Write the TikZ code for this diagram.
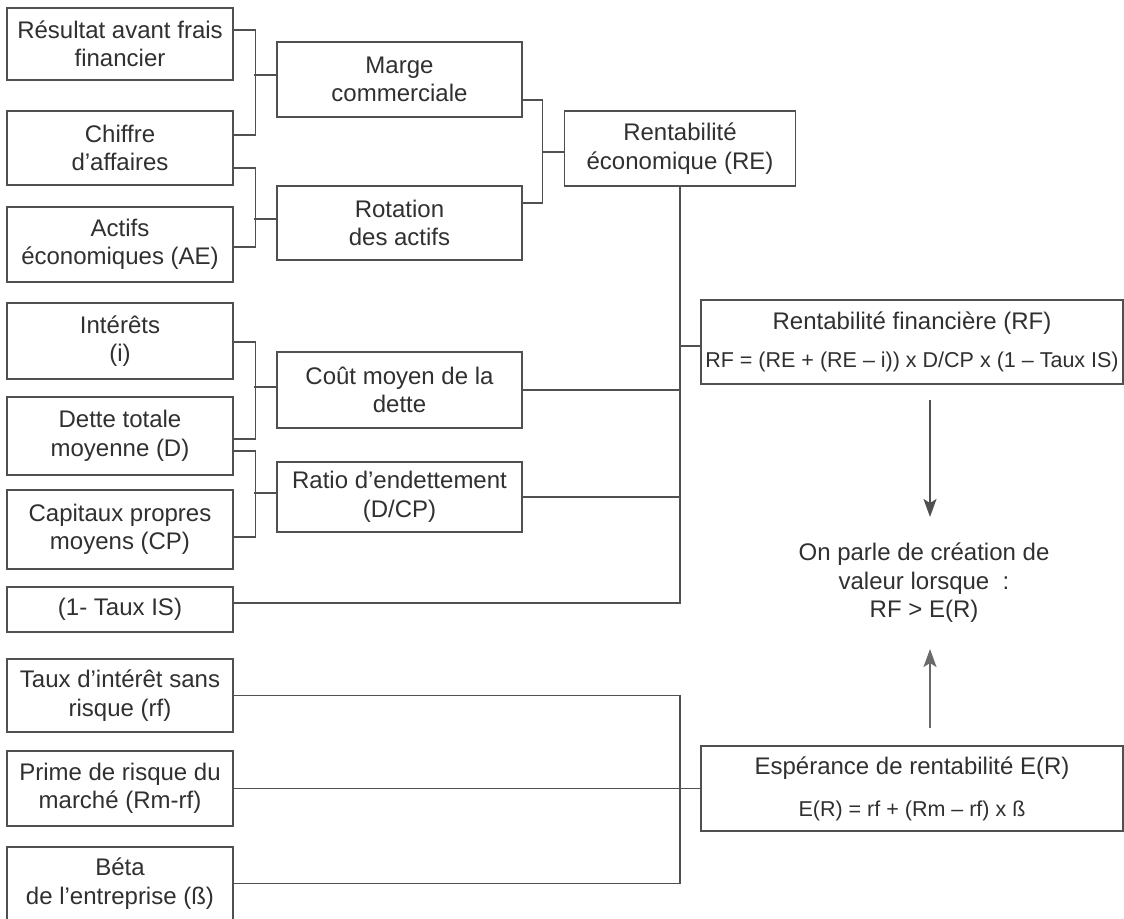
\documentclass[tikz,border=0pt]{standalone}
\usepackage{fontspec}
\setmainfont{Liberation Sans}
\usetikzlibrary{arrows.meta,calc}
\definecolor{ink}{HTML}{303030}
\definecolor{edge}{HTML}{505050}
\definecolor{softedge}{HTML}{6a6a6a}
\begin{document}
\begin{tikzpicture}[x=1pt,y=-1pt,
  every node/.style={text=ink},
  box/.style={draw=edge, line width=1.4pt, inner sep=0pt, align=center,
    font=\fontsize{24}{28.5}\selectfont},
  leftbox/.style={box, minimum width=226pt},
  midbox/.style={box, minimum width=245pt},
  bigbox/.style={draw=edge, line width=1.4pt, inner sep=0pt, minimum width=422pt},
  title/.style={inner sep=0pt, font=\fontsize{24}{28.5}\selectfont},
  formula/.style={inner sep=0pt, font=\fontsize{21.5}{26}\selectfont},
  link/.style={draw=edge, line width=1.4pt},
  arrdark/.style={draw=edge, line width=1.6pt, -{Stealth[length=18pt,width=13pt,inset=4pt]}},
  arrsoft/.style={draw=softedge, line width=1.6pt, -{Stealth[length=18pt,width=13pt,inset=4pt]}}
]
\fill[white] (0,0) rectangle (1124,918);
\useasboundingbox (0,0) rectangle (1124,918);

% left column: source figures
\node[leftbox, minimum height=72pt] (b1) at (120,44) {Résultat avant frais\\financier};
\node[leftbox, minimum height=74pt] (b2) at (120,148) {Chiffre\\d’affaires};
\node[leftbox, minimum height=75pt] (b3) at (120,244.5) {Actifs\\économiques (AE)};
\node[leftbox, minimum height=76pt] (b4) at (120,341) {Intérêts\\(i)};
\node[leftbox, minimum height=78pt] (b5) at (120,436) {Dette totale\\moyenne (D)};
\node[leftbox, minimum height=79pt] (b6) at (120,529.5) {Capitaux propres\\moyens (CP)};
\node[leftbox, minimum height=45pt] (b7) at (120,609.5) {(1- Taux IS)};
\node[leftbox, minimum height=73pt] (b8) at (120,695.5) {Taux d’intérêt sans\\risque (rf)};
\node[leftbox, minimum height=75pt] (b9) at (120,788.5) {Prime de risque du\\marché (Rm-rf)};
\node[leftbox, minimum height=73pt] (b10) at (120,883.5) {Béta\\de l’entreprise (ß)};

% middle column: intermediate ratios
\node[midbox, minimum height=75pt] (m1) at (399.5,79.5) {Marge\\commerciale};
\node[midbox, minimum height=74pt] (m2) at (399.5,223) {Rotation\\des actifs};
\node[midbox, minimum height=76pt] (m3) at (399.5,390) {Coût moyen de la\\dette};
\node[midbox, minimum height=70pt] (m4) at (399.5,497) {Ratio d’endettement\\(D/CP)};

% economic return
\node[box, minimum width=231pt, minimum height=75pt] (re) at (680,148.5) {Rentabilité\\économique (RE)};

% financial return
\node[bigbox, minimum height=84pt] (rf) at (912,342) {};
\node[title] (rft) at ([yshift=19pt]rf.center) {Rentabilité financière (RF)};
\node[formula] (rff) at ([yshift=-20pt]rf.center) {RF = (RE + (RE – i)) x D/CP x (1 – Taux IS)};

% expected return
\node[bigbox, minimum height=85pt] (er) at (912,788.5) {};
\node[title] (ert) at ([yshift=20.5pt]er.center) {Espérance de rentabilité E(R)};
\node[formula] (erf) at ([yshift=-22.5pt]er.center) {E(R) = rf + (Rm – rf) x ß};

% conclusion
\node[inner sep=0pt, align=center, font=\fontsize{24}{28.5}\selectfont] (msg) at (924,583)
  {On parle de création de\\valeur lorsque~~:\\RF > E(R)};
\coordinate (ax) at (930,0);

% brackets into the middle column
\draw[link] ([yshift=14pt]b1.east) -- ++(22,0) |- ([yshift=13pt]b2.east);
\draw[link] ([yshift=4.5pt]m1.west) -- ++(-22,0);
\draw[link] ([yshift=-20pt]b2.east) -- ++(22,0) |- ([yshift=-2.5pt]b3.east);
\draw[link] ([yshift=4pt]m2.west) -- ++(-22,0);
\draw[link] ([yshift=-1pt]b4.east) -- ++(22,0) |- ([yshift=-3pt]b5.east);
\draw[link] ([yshift=3pt]m3.west) -- ++(-22,0);
\draw[link] ([yshift=-15pt]b5.east) -- ++(22,0) |- ([yshift=-7.5pt]b6.east);
\draw[link] ([yshift=4pt]m4.west) -- ++(-22,0);

% bracket into economic return
\draw[link] ([yshift=-20.5pt]m1.east) -- ++(20,0) |- ([yshift=20pt]m2.east);
\draw[link] ([yshift=-3.5pt]re.west) -- ++(-21,0);

% collector into financial return
\draw[link] ([yshift=6.5pt]b7.east) -| (re.south);
\draw[link] (m3.east) -- (m3.east -| re.south);
\draw[link] (m4.east) -- (m4.east -| re.south);
\draw[link] ([yshift=-4pt]rf.west) -- ++(-21,0);

% collector into expected return
\draw[link] (b8.east) -| (re.south |- b10.east) -- (b10.east);
\draw[link] (b9.east) -- (er.west);

% arrows towards the conclusion
\draw[arrdark, shorten <=15pt, shorten >=26pt] (rf.south -| ax) -- (msg.north -| ax);
\draw[arrsoft, shorten <=17pt, shorten >=26pt] (er.north -| ax) -- (msg.south -| ax);
\end{tikzpicture}
\end{document}
